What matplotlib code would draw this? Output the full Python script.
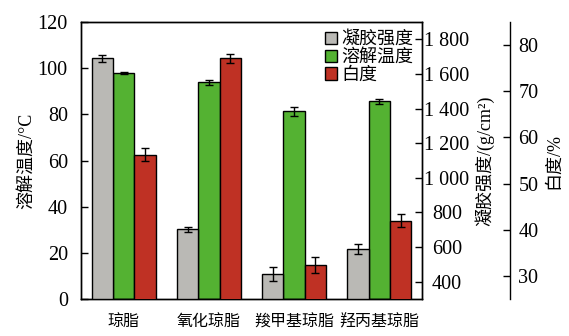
import numpy as np
import matplotlib
matplotlib.use('Agg')
import matplotlib.pyplot as plt
from matplotlib.patches import Patch

plt.rcParams['font.family'] = ['Liberation Serif', 'Noto Sans CJK SC']
plt.rcParams['axes.unicode_minus'] = False

# data
samples = ['琼脂', '氧化琼脂', '羧甲基琼脂', '羟丙基琼脂']
gel_strength = [1690, 702, 443, 587]          # g/cm2
gel_strength_err = [20, 15, 40, 29]
melt_temp = [97.8, 93.9, 81.3, 85.6]          # degC
melt_temp_err = [0.4, 1.0, 2.0, 1.0]
whiteness = [56.3, 77.1, 32.3, 42.0]          # %
whiteness_err = [1.4, 0.9, 1.7, 1.4]

gray = '#bab9b5'
green = '#54b232'
red = '#bf3124'

x = np.arange(len(samples))
w = 0.25

fig = plt.figure(figsize=(5.69, 3.36), dpi=100)
ax = fig.add_axes([0.1424, 0.1101, 0.5993, 0.8244])
ax2 = ax.twinx()
ax3 = ax.twinx()
ax3.spines['right'].set_position(('axes', 1.258))

err_kw = dict(ecolor='black', elinewidth=1.0, capsize=2.8, capthick=1.0)
ax2.bar(x - w, gel_strength, w, yerr=gel_strength_err, color=gray,
        edgecolor='black', linewidth=1.0, error_kw=err_kw)
ax.bar(x, melt_temp, w, yerr=melt_temp_err, color=green,
       edgecolor='black', linewidth=1.0, error_kw=err_kw)
ax3.bar(x + w, whiteness, w, yerr=whiteness_err, color=red,
        edgecolor='black', linewidth=1.0, error_kw=err_kw)

ax.set_xlim(-0.5, 3.5)
ax.set_ylim(0, 120)
ax2.set_ylim(300, 1900)
ax3.set_ylim(25, 85)

ax.set_xticks(x)
ax.set_xticklabels(samples, fontsize=11.5)
ax.tick_params(axis='x', length=0, pad=11)
ax.set_yticks(np.arange(0, 121, 20))
ax.tick_params(axis='y', direction='in', length=5, width=1, labelsize=14.5, pad=9.5)

g_ticks = np.arange(400, 1801, 200)
ax2.set_yticks(g_ticks)
ax2.set_yticklabels(['{:,}'.format(t).replace(',', ' ') for t in g_ticks],
                    ha='center')
ax2.tick_params(axis='y', direction='in', length=5, width=1, labelsize=14.5, pad=18)

ax3.set_yticks(np.arange(30, 81, 10))
ax3.tick_params(axis='y', direction='in', length=5, width=1, labelsize=14.5, pad=6)

for a in (ax, ax2, ax3):
    for s in a.spines.values():
        s.set_linewidth(1.0)
ax3.spines['top'].set_visible(False)
ax3.spines['left'].set_visible(False)
ax3.spines['bottom'].set_visible(False)

ax.set_ylabel('溶解温度/°C', fontsize=13)
ax.yaxis.set_label_coords(-0.135, 0.5)
ax2.set_ylabel('凝胶强度/(g/cm²)', fontsize=13)
ax2.yaxis.set_label_coords(1.155, 0.5)
ax3.set_ylabel('白度/%', fontsize=13)
ax3.yaxis.set_label_coords(1.361, 0.5)

handles = [Patch(facecolor=c, edgecolor='black', linewidth=1.0) for c in (gray, green, red)]
leg = ax3.legend(handles, ['凝胶强度', '溶解温度', '白度'], loc='upper right',
                 bbox_to_anchor=(0.974, 0.967), fontsize=13, frameon=False,
                 handlelength=0.67, handleheight=0.67, handletextpad=0.25,
                 labelspacing=0.05, borderpad=0, borderaxespad=0)

fig.savefig('out.png', dpi=100)
